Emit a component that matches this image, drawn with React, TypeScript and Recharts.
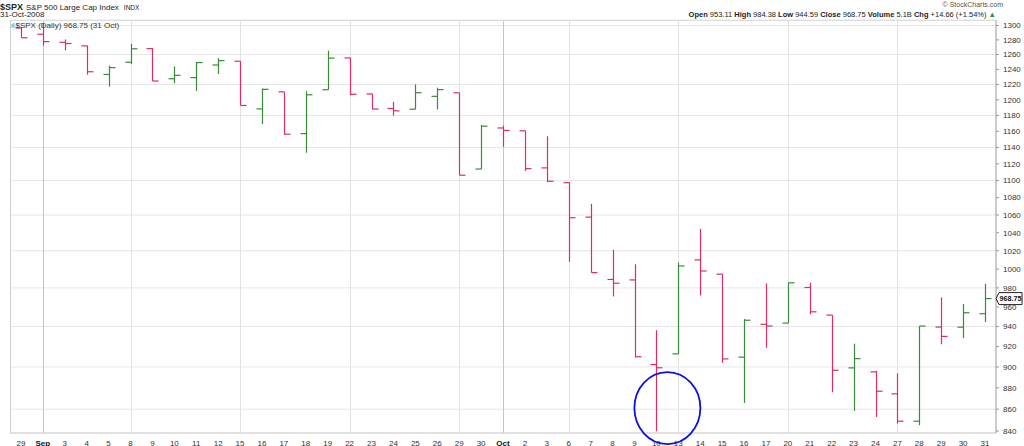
import {
  Bar,
  CartesianGrid,
  ComposedChart,
  ReferenceDot,
  XAxis,
  YAxis,
} from 'recharts'

const dates = [
  '2008-08-29', '2008-09-02', '2008-09-03', '2008-09-04', '2008-09-05',
  '2008-09-08', '2008-09-09', '2008-09-10', '2008-09-11', '2008-09-12',
  '2008-09-15', '2008-09-16', '2008-09-17', '2008-09-18', '2008-09-19',
  '2008-09-22', '2008-09-23', '2008-09-24', '2008-09-25', '2008-09-26',
  '2008-09-29', '2008-09-30', '2008-10-01', '2008-10-02', '2008-10-03',
  '2008-10-06', '2008-10-07', '2008-10-08', '2008-10-09', '2008-10-10',
  '2008-10-13', '2008-10-14', '2008-10-15', '2008-10-16', '2008-10-17',
  '2008-10-20', '2008-10-21', '2008-10-22', '2008-10-23', '2008-10-24',
  '2008-10-27', '2008-10-28', '2008-10-29', '2008-10-30', '2008-10-31',
]

const dayLabels = [
  '29', 'Sep', '3', '4', '5', '8', '9', '10', '11', '12', '15', '16', '17', '18', '19',
  '22', '23', '24', '25', '26', '29', '30', 'Oct', '2', '3', '6', '7', '8', '9', '10',
  '13', '14', '15', '16', '17', '20', '21', '22', '23', '24', '27', '28', '29', '30', '31',
]

const opens = [
  1296.49, 1287.83, 1276.61, 1271.8, 1233.21, 1249.5, 1267.98, 1227.5, 1229.04, 1245.88,
  1250.92, 1188.31, 1210.34, 1157.08, 1213.11, 1255.37, 1207.61, 1188.79, 1187.87, 1204.47,
  1209.07, 1113.78, 1164.17, 1160.64, 1115.16, 1097.56, 1057.6, 988.91, 988.42, 902.31,
  912.75, 1009.97, 994.6, 909.53, 942.29, 943.51, 980.4, 951.67, 899.08, 895.22,
  874.28, 848.92, 939.51, 939.38, 953.11,
]
const highs = [
  1297.59, 1303.04, 1280.6, 1271.8, 1244.94, 1274.42, 1268.66, 1243.9, 1249.98, 1255.09,
  1250.92, 1214.84, 1210.34, 1211.14, 1265.33, 1255.37, 1207.61, 1197.41, 1220.03, 1215.77,
  1209.07, 1168.03, 1167.03, 1160.64, 1153.82, 1097.56, 1072.91, 1021.06, 1005.25, 936.36,
  1006.93, 1044.31, 994.6, 947.71, 984.64, 985.4, 985.44, 951.67, 922.83, 896.3,
  893.78, 940.51, 969.97, 963.23, 984.38,
]
const lows = [
  1282.74, 1272.2, 1265.59, 1232.83, 1217.23, 1247.12, 1224.51, 1221.6, 1211.54, 1233.81,
  1192.7, 1169.28, 1155.88, 1133.5, 1213.11, 1205.61, 1187.6, 1179.79, 1187.87, 1187.54,
  1106.42, 1113.78, 1140.77, 1111.43, 1098.14, 1007.97, 996.23, 970.97, 909.19, 839.8,
  912.75, 972.07, 903.99, 865.83, 918.74, 943.51, 952.47, 875.81, 858.44, 852.85,
  846.75, 845.27, 922.26, 928.5, 944.59,
]
const closes = [
  1282.83, 1277.58, 1274.98, 1236.83, 1242.31, 1267.79, 1224.51, 1232.04, 1249.05, 1251.7,
  1192.7, 1213.6, 1156.39, 1206.51, 1255.08, 1207.09, 1188.22, 1185.87, 1209.18, 1213.27,
  1106.42, 1166.36, 1161.06, 1114.28, 1099.23, 1056.89, 996.23, 984.94, 909.92, 899.22,
  1003.35, 998.01, 907.84, 946.43, 940.55, 985.4, 955.05, 896.78, 908.11, 876.77,
  848.92, 940.51, 930.09, 954.09, 968.75,
]
const priorClose = 1300.68

const priceTicks = [
  840, 860, 880, 900, 920, 940, 960, 980, 1000, 1020, 1040, 1060, 1080, 1100, 1120,
  1140, 1160, 1180, 1200, 1220, 1240, 1260, 1280, 1300,
]
const weekStarts = [
  '2008-09-08', '2008-09-15', '2008-09-22', '2008-09-29',
  '2008-10-06', '2008-10-13', '2008-10-20', '2008-10-27',
]
const monthStarts = ['2008-09-02', '2008-10-01']

const RED = '#dc2f5f'
const GREEN = '#3a8a3a'

const rows = dates.map((date, i) => ({
  date,
  open: opens[i],
  high: highs[i],
  low: lows[i],
  close: closes[i],
  up: closes[i] >= (i === 0 ? priorClose : closes[i - 1]),
  range: [lows[i], highs[i]],
}))

const labelFor = Object.fromEntries(dates.map((d, i) => [d, dayLabels[i]]))

// vertical grid at the centre of each listed date's band
const gridAt = (list: string[]) => (args: any) => {
  const scale = args?.xAxis?.scale
  if (typeof scale === 'function' && typeof scale.bandwidth === 'function') {
    return list.map((d) => Math.round(scale(d) + scale.bandwidth() / 2) + 0.5)
  }
  const off = args?.offset ?? { left: 10, width: 986 }
  const band = off.width / dates.length
  return list.map((d) => Math.round(off.left + band * (dates.indexOf(d) + 0.5)) + 0.5)
}

function OhlcBar(props: any) {
  const { x, y, width, height, payload } = props
  const top = Math.min(y, y + height)
  const bottom = Math.max(y, y + height)
  const span = Math.log(payload.high / payload.low)
  const toY = (v: number) => top + ((bottom - top) * Math.log(payload.high / v)) / span
  const cx = Math.round(x + width / 2) + 0.5
  const color = payload.up ? GREEN : RED
  const yo = toY(payload.open)
  const yc = toY(payload.close)
  return (
    <g stroke={color} strokeWidth={1.2} fill="none">
      <line x1={cx} x2={cx} y1={top} y2={bottom} />
      <line x1={cx - 6} x2={cx} y1={yo} y2={yo} />
      <line x1={cx} x2={cx + 6} y1={yc} y2={yc} />
    </g>
  )
}

function DayTick(props: any) {
  const { x, y, payload } = props
  const text = labelFor[payload.value]
  const bold = text === 'Sep' || text === 'Oct'
  return (
    <text
      x={x}
      y={y + 10.5}
      textAnchor="middle"
      fontSize={8}
      fontWeight={bold ? 700 : 400}
      fill={bold ? '#111' : '#333'}
      fontFamily="'Liberation Sans', Arial, sans-serif"
    >
      {text}
    </text>
  )
}

function Circle(props: any) {
  const { cx, cy } = props
  return (
    <ellipse cx={cx + 11} cy={cy} rx={33} ry={36} fill="none" stroke="#1010e0" strokeWidth={1.8} />
  )
}

function PriceTag(props: any) {
  const { cx, cy } = props
  const px = cx + 11
  return (
    <g>
      <path
        d={`M${px},${cy} L${px + 3},${cy - 6} L${px + 26},${cy - 6} L${px + 26},${cy + 6} L${px + 3},${cy + 6} Z`}
        fill="#fff"
        stroke="#222"
        strokeWidth={1}
      />
      <text
        x={px + 3.5}
        y={cy + 2.8}
        fontSize={7.2}
        fontWeight={700}
        fill="#111"
        fontFamily="'Liberation Sans', Arial, sans-serif"
      >
        968.75
      </text>
    </g>
  )
}

export default function App() {
  const font = "'Liberation Sans', Arial, sans-serif"
  return (
    <div
      style={{
        position: 'absolute',
        left: 0,
        top: 0,
        width: 1024,
        height: 446,
        background: '#fff',
        fontFamily: font,
        color: '#222',
      }}
    >
      <ComposedChart
        width={1024}
        height={446}
        data={rows}
        margin={{ top: 20, right: 0, bottom: 0, left: 10 }}
      >
        <CartesianGrid vertical={false} stroke="#e6e6e6" />
        <CartesianGrid horizontal={false} stroke="#e2e2e2" verticalCoordinatesGenerator={gridAt(weekStarts)} />
        <CartesianGrid horizontal={false} stroke="#c4c4c4" verticalCoordinatesGenerator={gridAt(monthStarts)} />
        <XAxis
          dataKey="date"
          interval={0}
          height={13}
          tickLine={false}
          tickSize={0}
          tick={<DayTick />}
          axisLine={{ stroke: '#cfcfcf' }}
        />
        <YAxis
          orientation="right"
          scale="log"
          domain={[838.2, 1307.7]}
          allowDataOverflow
          ticks={priceTicks}
          width={28}
          tickSize={3}
          tickMargin={4}
          axisLine={{ stroke: '#9a9a9a' }}
          tickLine={{ stroke: '#9a9a9a' }}
          tick={{ fontSize: 8, fill: '#333', fontFamily: font }}
        />
        <Bar dataKey="range" barSize={12} shape={<OhlcBar />} isAnimationActive={false} />
        <ReferenceDot x="2008-10-10" y={861} ifOverflow="visible" shape={<Circle />} />
        <ReferenceDot x="2008-10-31" y={968.75} ifOverflow="visible" shape={<PriceTag />} />
      </ComposedChart>

      <div
        style={{
          position: 'absolute',
          left: 10,
          top: 20,
          width: 985,
          height: 412,
          borderLeft: '1px solid #cfcfcf',
          borderTop: '1px solid #dcdcdc',
          pointerEvents: 'none',
        }}
      />
      <div style={{ position: 'absolute', left: 0, top: 0, whiteSpace: 'nowrap', lineHeight: '10px', height: 10 }}>
        <span style={{ fontSize: 9, fontWeight: 700, fontFamily: "'Liberation Sans Narrow', " + font }}>
          $SPX
        </span>
        <span style={{ fontSize: 8, marginLeft: 3 }}>S&amp;P 500 Large Cap Index</span>
        <span style={{ fontSize: 6.5, marginLeft: 5 }}>INDX</span>
      </div>
      <div style={{ position: 'absolute', left: 0, top: 11, fontSize: 8, lineHeight: '8px', whiteSpace: 'nowrap' }}>
        31-Oct-2008
      </div>
      <div
        style={{
          position: 'absolute',
          left: 11,
          top: 21,
          fontSize: 8,
          whiteSpace: 'nowrap',
          lineHeight: '9px',
          color: '#333',
        }}
      >
        <span style={{ color: GREEN, marginRight: 1, fontSize: 7 }}>ıļ</span>$SPX (Daily) 968.75 (31 Oct)
      </div>
      <div
        style={{
          position: 'absolute',
          right: 21,
          top: 0,
          fontSize: 7,
          lineHeight: '9px',
          color: '#555',
          whiteSpace: 'nowrap',
        }}
      >
        © StockCharts.com
      </div>
      <div
        style={{
          position: 'absolute',
          right: 28,
          top: 10,
          fontSize: 7.5,
          lineHeight: '9px',
          whiteSpace: 'nowrap',
        }}
      >
        <b>Open</b> 953.11 <b>High</b> 984.38 <b>Low</b> 944.59 <b>Close</b> 968.75{' '}
        <b>Volume</b> 5.1B <b>Chg</b> +14.66 (+1.54%) <span style={{ color: GREEN }}>▲</span>
      </div>
    </div>
  )
}
